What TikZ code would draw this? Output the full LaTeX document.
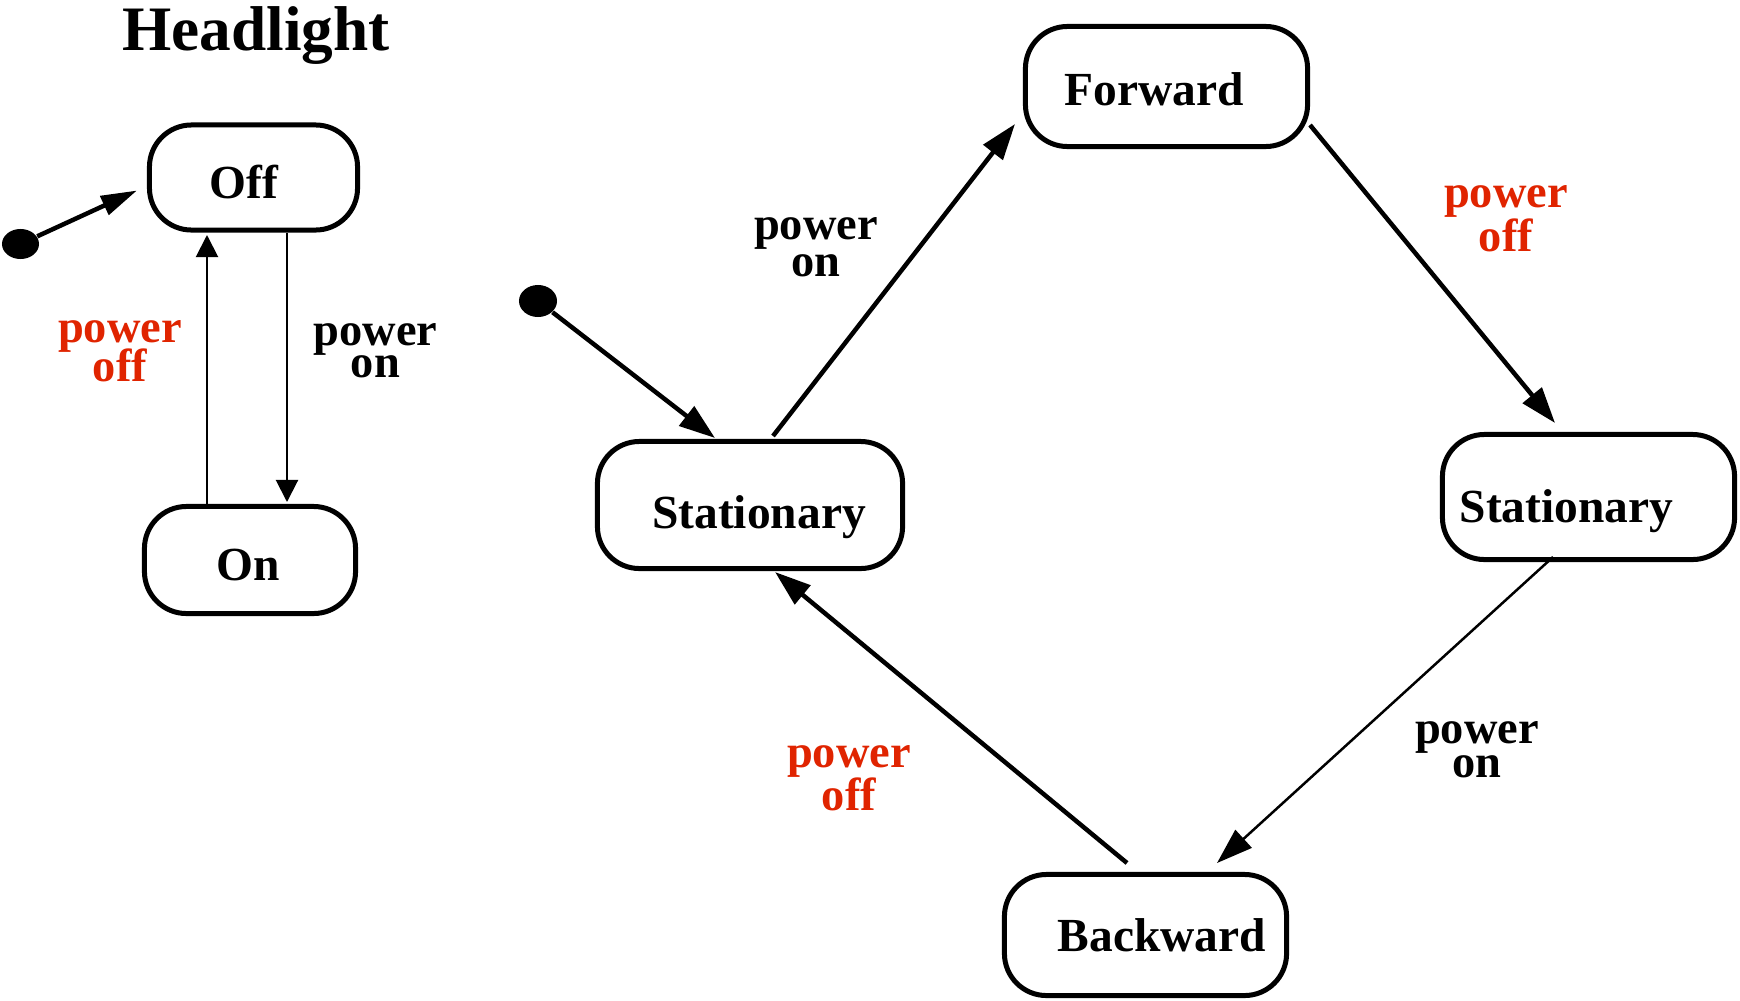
\documentclass[tikz,border=0pt]{standalone}
\usepackage{fontspec}
\setmainfont{Liberation Serif}
\usetikzlibrary{arrows.meta,shapes.geometric}
\definecolor{offred}{RGB}{224,36,0}
% let the two-line labels sit closer than their glyph boxes allow
\setlength{\lineskiplimit}{-100pt}

\begin{document}
\begin{tikzpicture}[x=0.01cm,y=-0.01cm,
  state/.style={draw, line width=0.05cm, rounded corners=0.42cm, inner sep=0pt},
  statename/.style={anchor=base, inner sep=0pt, font=\bfseries\fontsize{13.5pt}{16pt}\selectfont},
  initdot/.style={ellipse, fill=black, draw=none, inner sep=0pt},
  trans/.style={line width=0.045cm, -{Triangle[length=0.36cm,width=0.24cm]}},
  slimtrans/.style={line width=0.025cm, -{Triangle[length=0.36cm,width=0.24cm]}},
  hairtrans/.style={line width=0.02cm, -{Triangle[length=0.22cm,width=0.22cm]}},
  evt/.style={align=center, inner sep=0pt, anchor=center,
    font=\bfseries\fontsize{13.2pt}{#1}\selectfont},
]
\fill[white] (0,0) rectangle (1740,1000);
\useasboundingbox (0,0) rectangle (1740,1000);

% ---------- Headlight ----------
\node[anchor=base, inner sep=0pt, font=\bfseries\fontsize{18pt}{21pt}\selectfont] (title) at (256,51) {Headlight};

\node[state, minimum width=2.08cm, minimum height=1.05cm] (off) at (253.5,177.5) {};
\node[statename] (offtext) at (244,198) {Off};
\node[state, minimum width=2.11cm, minimum height=1.07cm] (on) at (250,560) {};
\node[statename] (ontext) at (248,580) {On};

\node[initdot, minimum width=0.37cm, minimum height=0.30cm] (hinit) at (20.5,244) {};
\draw[line width=0.045cm, -{Triangle[length=0.36cm,width=0.2cm]}] (hinit) -- ([shift={(-116.5,13)}]off.center);

\draw[hairtrans] ([shift={(-43,-54)}]on.center) -- ([shift={(-46.5,57.5)}]off.center);
\draw[hairtrans] ([shift={(33.5,55.5)}]off.center) -- ([shift={(37,-58)}]on.center);

\node[evt=11.1pt, text=offred] (hoff) at (120,351.5) {power\\off};
\node[evt=9.1pt] (hon) at (375.5,351) {power\\on};

% ---------- Motor ----------
\node[state, minimum width=2.82cm, minimum height=1.20cm] (fwd) at (1166.5,86.5) {};
\node[statename] (fwdtext) at (1154,105) {Forward};
\node[state, minimum width=3.05cm, minimum height=1.27cm] (stL) at (750,505) {};
\node[statename] (stLtext) at (759,528) {Stationary};
\node[state, minimum width=2.92cm, minimum height=1.25cm] (stR) at (1588.5,497) {};
\node[statename] (stRtext) at (1566.5,522) {Stationary};
\node[state, minimum width=2.82cm, minimum height=1.21cm] (bwd) at (1145.5,935) {};
\node[statename] (bwdtext) at (1162,951) {Backward};

\node[initdot, minimum width=0.38cm, minimum height=0.32cm] (rinit) at (538,301) {};
\draw[trans] (rinit) -- ([shift={(-35,-67)}]stL.center);

\draw[trans] ([shift={(23,-69)}]stL.center) -- ([shift={(-151.5,37.5)}]fwd.center);
\draw[trans] ([shift={(143.5,38.5)}]fwd.center) -- ([shift={(-33.5,-74)}]stR.center);
\draw[slimtrans] ([shift={(-35.5,60)}]stR.center) -- ([shift={(71.5,-72)}]bwd.center);
\draw[trans] ([shift={(-18.5,-72)}]bwd.center) -- ([shift={(25,67)}]stL.center);

\node[evt=10.4pt] (son) at (816,247) {power\\on};
\node[evt=12.52pt, text=offred] (soff1) at (1506,218.7) {power\\off};
\node[evt=9.7pt] (son2) at (1477,749.7) {power\\on};
\node[evt=12.23pt, text=offred] (soff2) at (849,778.5) {power\\off};
\end{tikzpicture}
\end{document}
